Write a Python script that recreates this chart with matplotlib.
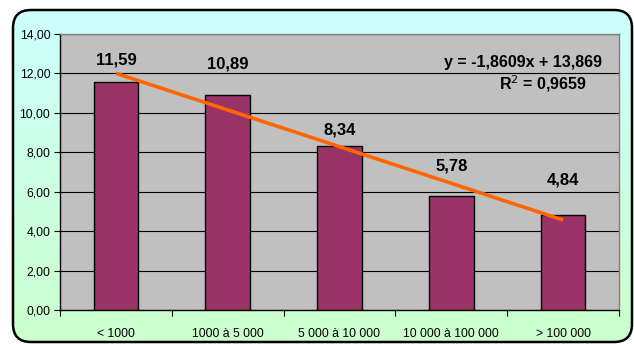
import numpy as np
import matplotlib
matplotlib.use("Agg")
import matplotlib.pyplot as plt
from matplotlib.patches import FancyBboxPatch

plt.rcParams["font.family"] = ["Liberation Sans", "DejaVu Sans"]

# ---------- data ----------
categories = ["< 1000", "1000 à 5 000", "5 000 à 10 000", "10 000 à 100 000", "> 100 000"]
values = [11.59, 10.89, 8.34, 5.78, 4.84]
slope = -1.8609
intercept = 13.869
r2 = 0.9659

# label heights (data units) for the value annotations
label_y = [12.68, 12.5, 9.13, 7.3, 6.58]

W, H = 634, 344
fig = plt.figure(figsize=(W / 100, H / 100), dpi=100)

# background panel with rounded frame and soft cyan -> green gradient
bg = fig.add_axes([0, 0, 1, 1])
bg.set_xlim(0, W)
bg.set_ylim(H, 0)
bg.axis("off")
grad = np.linspace(0, 1, 256).reshape(-1, 1)
c_top = np.array([0.80, 1.0, 1.0])
c_bot = np.array([0.80, 1.0, 0.80])
img = c_top[None, None, :] * (1 - grad[:, :, None]) + c_bot[None, None, :] * grad[:, :, None]
im = bg.imshow(img, extent=(0, W, H, 0), aspect="auto")
frame = FancyBboxPatch((13, 10), W - 13 - 2, H - 10 - 2,
                       boxstyle="round,pad=0,rounding_size=18",
                       facecolor="none", edgecolor="black", linewidth=1.8)
bg.add_patch(frame)
im.set_clip_path(frame)
bg.set_xlim(0, W)
bg.set_ylim(H, 0)

# ---------- chart ----------
ax = fig.add_axes([60 / W, 1 - 310 / H, (619 - 60) / W, (310 - 34) / H])
ax.set_facecolor("#C0C0C0")
x = np.arange(len(categories))
ax.bar(x, values, width=0.4, color="#993366", edgecolor="black", linewidth=1.0, zorder=3)

ax.set_xlim(-0.5, len(categories) - 0.5)
ax.set_ylim(0, 14)
yt = np.arange(0, 14.1, 2)
ax.set_yticks(yt)
ax.set_yticklabels([f"{v:.2f}".replace(".", ",") for v in yt], fontsize=8.8)
ax.yaxis.grid(True, color="black", linewidth=0.8, zorder=1)
ax.set_axisbelow(True)

ax.set_xticks(x)
ax.set_xticklabels(categories, fontsize=8.8)
ax.set_xticks(np.arange(-0.5, len(categories)), minor=True)
ax.tick_params(axis="x", which="major", length=0, pad=13)
ax.tick_params(axis="x", which="minor", length=4, width=0.8, direction="out")
ax.tick_params(axis="y", length=4, width=0.8, direction="out", pad=3)

for side in ("top", "right"):
    ax.spines[side].set_color("#808080")
    ax.spines[side].set_linewidth(1.0)
for side in ("left", "bottom"):
    ax.spines[side].set_color("black")
    ax.spines[side].set_linewidth(1.0)

# linear trend line over the category index 1..n
xs = np.array([1, len(categories)])
ax.plot(xs - 1, slope * xs + intercept, color="#FF6600", linewidth=2.6, zorder=4,
        solid_capstyle="butt")

for xi, v, ly in zip(x, values, label_y):
    ax.text(xi, ly, f"{v:.2f}".replace(".", ","), ha="center", va="center",
            fontsize=12, fontweight="bold", zorder=5)

ax.text(4.35, 12.55, f"y = {slope:.4f}x + {intercept:.3f}".replace(".", ","),
        ha="right", va="center", fontsize=11.5, fontweight="bold", zorder=5)
ax.text(3.82, 11.5, f"R$^2$ = {r2:.4f}".replace(".", ","),
        ha="center", va="center", fontsize=11.5, fontweight="bold", zorder=5)

fig.savefig("out.png", dpi=100)
